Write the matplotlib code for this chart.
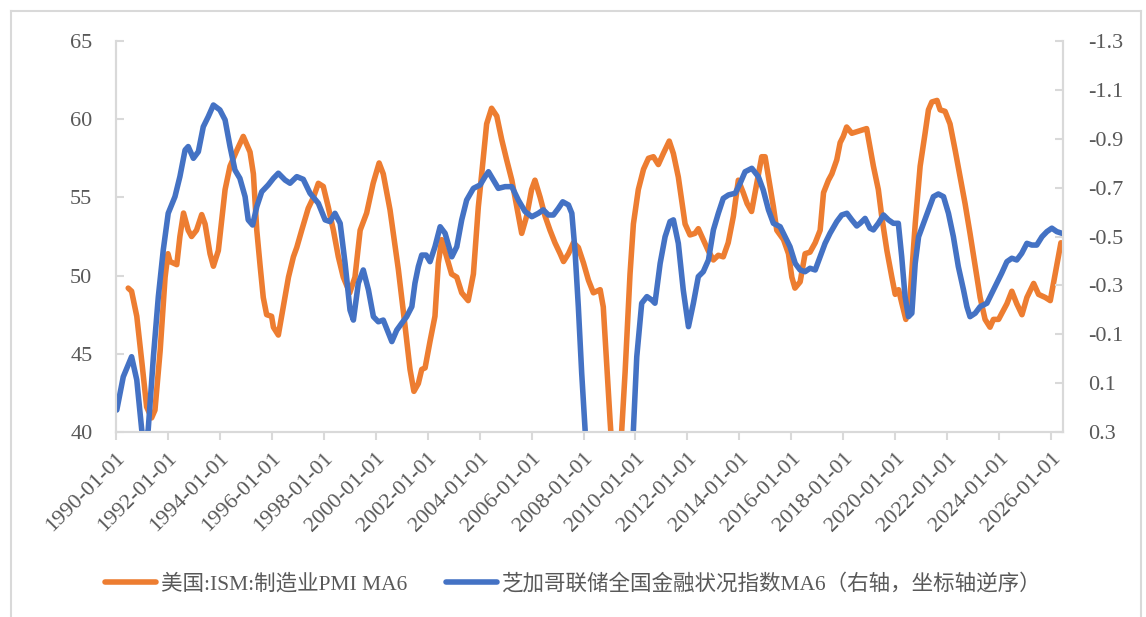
import numpy as np
import matplotlib
matplotlib.use("Agg")
import matplotlib.pyplot as plt
from matplotlib.lines import Line2D

# ISM manufacturing PMI, 6m moving average (left axis)
pmi_t = [1990.47, 1990.6, 1990.8, 1991.0, 1991.18, 1991.37, 1991.5, 1991.7, 1991.89, 1992.0,
         1992.08, 1992.34, 1992.46, 1992.6, 1992.78, 1992.91, 1993.1, 1993.3, 1993.43, 1993.62,
         1993.75, 1993.94, 1994.2, 1994.39, 1994.65, 1994.9, 1995.03, 1995.16, 1995.29, 1995.42,
         1995.55, 1995.67, 1995.8, 1995.99, 1996.06, 1996.25, 1996.44, 1996.64, 1996.83, 1996.96,
         1997.15, 1997.4, 1997.6, 1997.79, 1997.98, 1998.17, 1998.37, 1998.56, 1998.75, 1999.0,
         1999.2, 1999.4, 1999.65, 1999.9, 2000.13, 2000.29, 2000.55, 2000.87, 2001.12, 2001.32,
         2001.47, 2001.64, 2001.77, 2001.9, 2002.09, 2002.28, 2002.41, 2002.54, 2002.73, 2002.92,
         2003.12, 2003.31, 2003.56, 2003.76, 2003.95, 2004.08, 2004.27, 2004.46, 2004.66, 2004.85,
         2005.04, 2005.24, 2005.43, 2005.62, 2005.81, 2006.0, 2006.13, 2006.33, 2006.52, 2006.71,
         2006.9, 2007.1, 2007.23, 2007.42, 2007.61, 2007.8, 2008.0, 2008.19, 2008.38, 2008.64,
         2008.76, 2008.89, 2009.02, 2009.15, 2009.3, 2009.47, 2009.6, 2009.79, 2009.92, 2010.11,
         2010.31, 2010.5, 2010.69, 2010.88, 2011.07, 2011.3, 2011.46, 2011.65, 2011.78, 2011.91,
         2012.1, 2012.29, 2012.42, 2012.61, 2012.8, 2013.0, 2013.19, 2013.38, 2013.57, 2013.77,
         2013.96, 2014.15, 2014.3, 2014.47, 2014.67, 2014.86, 2014.99, 2015.12, 2015.31, 2015.44,
         2015.7, 2015.89, 2016.02, 2016.14, 2016.34, 2016.53, 2016.72, 2016.92, 2017.11, 2017.24,
         2017.43, 2017.56, 2017.75, 2017.88, 2018.0, 2018.13, 2018.33, 2018.52, 2018.71, 2018.9,
         2019.03, 2019.16, 2019.35, 2019.48, 2019.68, 2019.87, 2020.0, 2020.13, 2020.26, 2020.41,
         2020.57, 2020.77, 2020.96, 2021.15, 2021.28, 2021.41, 2021.61, 2021.73, 2021.92, 2022.11,
         2022.31, 2022.5, 2022.69, 2022.88, 2023.08, 2023.27, 2023.46, 2023.65, 2023.78, 2023.98,
         2024.17, 2024.3, 2024.49, 2024.68, 2024.88, 2025.07, 2025.33, 2025.52, 2025.78, 2025.97,
         2026.16, 2026.38]
pmi_v = [49.2, 49.0, 47.4, 44.4, 41.6, 40.9, 41.4, 45.2, 49.9, 51.4,
         50.9, 50.7, 52.5, 54.0, 52.9, 52.5, 52.9, 53.9, 53.3, 51.4,
         50.6, 51.6, 55.5, 57.0, 58.0, 58.9, 58.4, 57.9, 56.5, 52.9,
         50.6, 48.6, 47.5, 47.4, 46.7, 46.2, 48.0, 49.9, 51.2, 51.8,
         52.9, 54.3, 55.0, 55.9, 55.7, 54.4, 52.9, 51.2, 49.9, 48.9,
         49.9, 52.9, 54.0, 55.9, 57.2, 56.5, 54.2, 50.4, 46.9, 44.0,
         42.6, 43.1, 44.0, 44.1, 45.8, 47.4, 50.8, 52.3, 51.2, 50.1,
         49.9, 48.9, 48.4, 50.1, 54.4, 56.5, 59.7, 60.7, 60.2, 58.7,
         57.4, 56.1, 54.4, 52.7, 53.8, 55.5, 56.1, 55.0, 53.8, 52.9,
         52.1, 51.4, 50.9, 51.4, 52.1, 51.8, 50.8, 49.7, 48.9, 49.1,
         48.0, 44.4, 40.8, 37.5, 36.5, 40.1, 43.8, 50.1, 53.3, 55.5,
         56.8, 57.5, 57.6, 57.1, 57.8, 58.6, 57.8, 56.3, 54.8, 53.3,
         52.6, 52.7, 53.0, 52.3, 51.6, 51.0, 51.3, 51.2, 52.1, 53.8,
         56.1, 55.3, 54.6, 54.1, 55.9, 57.6, 57.6, 56.3, 54.4, 52.9,
         52.3, 51.4, 49.9, 49.2, 49.6, 51.4, 51.5, 52.1, 52.9, 55.3,
         56.1, 56.5, 57.4, 58.5, 58.9, 59.5, 59.1, 59.2, 59.3, 59.4,
         58.2, 57.0, 55.5, 53.8, 51.6, 49.9, 48.8, 49.1, 48.2, 47.2,
         48.6, 53.3, 57.0, 59.1, 60.6, 61.1, 61.2, 60.6, 60.5, 59.7,
         58.0, 56.3, 54.6, 52.7, 50.6, 48.6, 47.2, 46.7, 47.2, 47.2,
         47.8, 48.2, 49.0, 48.2, 47.5, 48.6, 49.5, 48.8, 48.6, 48.4,
         50.1, 52.1]

# Chicago Fed NFCI, 6m moving average (right axis, inverted)
nfci_t = [1990.03, 1990.28, 1990.6, 1990.8, 1990.99, 1991.1, 1991.24, 1991.44, 1991.63, 1991.82,
          1992.01, 1992.27, 1992.46, 1992.66, 1992.78, 1992.98, 1993.17, 1993.36, 1993.55, 1993.75,
          1994.0, 1994.2, 1994.39, 1994.58, 1994.77, 1994.97, 1995.09, 1995.26, 1995.42, 1995.61,
          1995.86, 1996.06, 1996.25, 1996.51, 1996.7, 1996.96, 1997.21, 1997.47, 1997.79, 1998.05,
          1998.24, 1998.43, 1998.63, 1998.82, 1999.01, 1999.14, 1999.33, 1999.52, 1999.72, 1999.91,
          2000.1, 2000.29, 2000.49, 2000.62, 2000.81, 2001.0, 2001.19, 2001.39, 2001.51, 2001.64,
          2001.77, 2001.94, 2002.09, 2002.28, 2002.48, 2002.67, 2002.93, 2003.12, 2003.31, 2003.5,
          2003.76, 2004.02, 2004.21, 2004.34, 2004.53, 2004.72, 2004.98, 2005.24, 2005.49, 2005.75,
          2006.01, 2006.26, 2006.45, 2006.65, 2006.84, 2007.03, 2007.2, 2007.42, 2007.55, 2007.67,
          2007.8, 2007.93, 2008.06, 2008.3, 2008.6, 2008.9, 2009.2, 2009.5, 2009.75, 2009.92,
          2010.05, 2010.24, 2010.44, 2010.63, 2010.75, 2010.95, 2011.14, 2011.33, 2011.46, 2011.65,
          2011.84, 2012.04, 2012.23, 2012.42, 2012.61, 2012.81, 2013.0, 2013.19, 2013.38, 2013.58,
          2013.84, 2014.03, 2014.22, 2014.48, 2014.73, 2014.92, 2015.12, 2015.31, 2015.57, 2015.76,
          2015.95, 2016.15, 2016.34, 2016.53, 2016.72, 2016.92, 2017.11, 2017.3, 2017.49, 2017.75,
          2017.94, 2018.14, 2018.33, 2018.52, 2018.65, 2018.84, 2019.03, 2019.16, 2019.35, 2019.55,
          2019.74, 2019.93, 2020.12, 2020.25, 2020.38, 2020.51, 2020.64, 2020.77, 2020.9, 2021.09,
          2021.28, 2021.47, 2021.66, 2021.86, 2022.05, 2022.24, 2022.43, 2022.63, 2022.76, 2022.88,
          2023.08, 2023.27, 2023.53, 2023.72, 2023.91, 2024.1, 2024.3, 2024.49, 2024.68, 2024.87,
          2025.07, 2025.26, 2025.45, 2025.65, 2025.84, 2026.03, 2026.22, 2026.42]
nfci_v = [0.21, 0.074, -0.008, 0.087, 0.29, 0.36, 0.29, -0.008, -0.254, -0.445,
          -0.595, -0.663, -0.745, -0.854, -0.868, -0.82, -0.847, -0.949, -0.99, -1.038,
          -1.018, -0.977, -0.868, -0.772, -0.738, -0.663, -0.568, -0.547, -0.622, -0.683,
          -0.711, -0.738, -0.759, -0.731, -0.718, -0.745, -0.734, -0.677, -0.636, -0.568,
          -0.561, -0.595, -0.554, -0.39, -0.199, -0.158, -0.309, -0.363, -0.281, -0.172,
          -0.151, -0.158, -0.104, -0.07, -0.117, -0.145, -0.172, -0.213, -0.309, -0.377,
          -0.424, -0.424, -0.397, -0.458, -0.54, -0.513, -0.417, -0.458, -0.568, -0.649,
          -0.697, -0.711, -0.745, -0.765, -0.731, -0.697, -0.704, -0.704, -0.649, -0.602,
          -0.581, -0.595, -0.609, -0.588, -0.588, -0.615, -0.642, -0.629, -0.595, -0.445,
          -0.213, 0.06, 0.29, 0.9, 1.7, 2.3, 2.2, 1.4, 0.7, 0.29,
          -0.008, -0.227, -0.254, -0.24, -0.227, -0.39, -0.499, -0.561, -0.568, -0.472,
          -0.281, -0.131, -0.227, -0.336, -0.356, -0.404, -0.527, -0.595, -0.656, -0.67,
          -0.677, -0.718, -0.765, -0.779, -0.745, -0.69, -0.609, -0.554, -0.54, -0.499,
          -0.458, -0.39, -0.363, -0.356, -0.37, -0.363, -0.417, -0.472, -0.513, -0.561,
          -0.588, -0.595, -0.568, -0.543, -0.554, -0.574, -0.534, -0.527, -0.554, -0.588,
          -0.568, -0.554, -0.554, -0.417, -0.254, -0.172, -0.186, -0.39, -0.499, -0.554,
          -0.609, -0.663, -0.674, -0.663, -0.595, -0.499, -0.377, -0.281, -0.213, -0.172,
          -0.186, -0.213, -0.227, -0.268, -0.309, -0.35, -0.397, -0.411, -0.404, -0.431,
          -0.472, -0.465, -0.465, -0.499, -0.52, -0.534, -0.52, -0.513]

years = list(range(1990, 2027, 2))
xlabels = [f"{y}-01-01" for y in years]
left_ticks = [40, 45, 50, 55, 60, 65]
right_ticks = [0.3, 0.1, -0.1, -0.3, -0.5, -0.7, -0.9, -1.1, -1.3]
right_labels = ["0.3", "0.1", "-0.1", "-0.3", "-0.5", "-0.7", "-0.9", "-1.1", "-1.3"]

orange = "#ED7D31"
blue = "#4472C4"
grey = "#D9D9D9"
txt = "#595959"
num_font = ["Liberation Serif", "DejaVu Serif"]
leg_font = ["Liberation Serif", "Noto Sans CJK SC", "DejaVu Sans"]

fig = plt.figure(figsize=(11.46, 6.17), dpi=100)
ax = fig.add_axes([116 / 1146, 1 - 432 / 617, 947 / 1146, 391 / 617])
ax2 = ax.twinx()

l1, = ax.plot(pmi_t, pmi_v, color=orange, lw=4, solid_joinstyle="round", solid_capstyle="round")
l2, = ax2.plot(nfci_t, nfci_v, color=blue, lw=4, solid_joinstyle="round", solid_capstyle="round")

ax.set_xlim(1990, 2026.46)
ax.set_ylim(40, 65)
ax2.set_ylim(0.3, -1.3)

ax.set_xticks(years)
ax.set_xticklabels(xlabels, rotation=45, ha="right", rotation_mode="anchor",
                   family=num_font, fontsize=16, color=txt)
ax.set_yticks(left_ticks)
ax.set_yticklabels([str(v) for v in left_ticks], family=num_font, fontsize=16, color=txt)
ax2.set_yticks(right_ticks)
ax2.set_yticklabels(right_labels, family=num_font, fontsize=16, color=txt)

ax.tick_params(axis="x", direction="out", length=6, width=1.5, color=grey, pad=6)
ax.tick_params(axis="y", direction="in", length=6, width=1.5, color=grey, pad=17)
ax2.tick_params(axis="y", direction="in", length=6, width=1.5, color=grey, pad=18)

for a in (ax, ax2):
    for s in a.spines.values():
        s.set_color(grey)
        s.set_linewidth(1.5)
    a.spines["top"].set_visible(False)

leg = fig.legend([l1, l2], ["美国:ISM:制造业PMI MA6", "芝加哥联储全国金融状况指数MA6（右轴，坐标轴逆序）"],
                 loc="center", bbox_to_anchor=(0.5, 1 - 584 / 617), ncol=2, frameon=False,
                 prop={"family": leg_font, "size": 15.5}, handlelength=2.4, columnspacing=1.8,
                 handletextpad=0.2)
for t in leg.get_texts():
    t.set_color(txt)

# outer frame of the picture
for xs, ys in [([11 / 1146, 11 / 1146], [0, 1 - 11 / 617]),
               ([11 / 1146, 1141 / 1146], [1 - 11 / 617, 1 - 11 / 617]),
               ([1141 / 1146, 1141 / 1146], [0, 1 - 11 / 617])]:
    fig.add_artist(Line2D(xs, ys, color=grey, lw=1.5, transform=fig.transFigure))

fig.savefig("out.png", dpi=100)
